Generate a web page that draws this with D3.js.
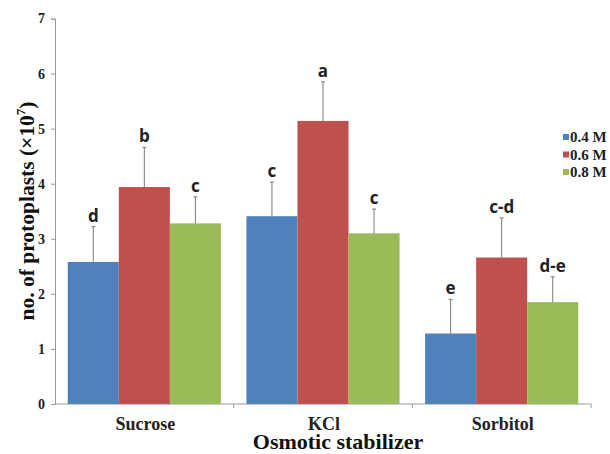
<!DOCTYPE html>
<html>
<head>
<meta charset="utf-8">
<script src="https://cdn.jsdelivr.net/npm/d3@7"></script>
<style>
  html, body { margin: 0; padding: 0; background: #fff; }
  svg { display: block; }
</style>
</head>
<body>
<svg id="chart" width="610" height="454"></svg>
<script>
// Protoplast yield by osmotic stabilizer and concentration
const categories = ["Sucrose", "KCl", "Sorbitol"];
const seriesNames = ["0.4 M", "0.6 M", "0.8 M"];
const values04 = [2.58, 3.41, 1.28];
const values06 = [3.94, 5.14, 2.66];
const values08 = [3.28, 3.10, 1.85];
const errors04 = [0.64, 0.62, 0.62];
const errors06 = [0.72, 0.71, 0.72];
const errors08 = [0.48, 0.44, 0.46];
const letters04 = ["d", "c", "e"];
const letters06 = ["b", "a", "c-d"];
const letters08 = ["c", "c", "d-e"];
const yTicks = [0, 1, 2, 3, 4, 5, 6, 7];
const colors = ["#4F81BD", "#C0504D", "#9BBB59"];

const seriesValues = [values04, values06, values08];
const seriesErrors = [errors04, errors06, errors08];
const seriesLetters = [letters04, letters06, letters08];

const svg = d3.select("#chart");
const plotLeft = 55, plotRight = 591, plotTop = 18.5, plotBottom = 404;

const x = d3.scaleBand().domain(categories).range([plotLeft, plotRight]).paddingInner(0).paddingOuter(0);
const y = d3.scaleLinear().domain([0, 7]).range([plotBottom, plotTop]);
const inner = d3.scaleBand().domain(d3.range(seriesNames.length))
  .range([0, x.bandwidth()]).paddingOuter(0.25).paddingInner(0);

const serif = "'Liberation Serif', 'Times New Roman', serif";
const axisColor = "#9a9a9a";

// Y axis
const yAxis = svg.append("g").attr("transform", `translate(${plotLeft},0)`)
  .call(d3.axisLeft(y).tickValues(yTicks).tickSize(4).tickPadding(6).tickFormat(d3.format("d")));
yAxis.select(".domain").attr("stroke", axisColor);
yAxis.selectAll(".tick line").attr("stroke", axisColor);
yAxis.selectAll(".tick text")
  .attr("font-family", serif).attr("font-weight", "bold").attr("font-size", 14).attr("fill", "#222");

// X axis: ticks at category boundaries
const boundaries = categories.map(c => x(c)).concat([plotRight]);
const xg = svg.append("g");
xg.append("line").attr("x1", plotLeft).attr("x2", plotRight).attr("y1", plotBottom).attr("y2", plotBottom)
  .attr("stroke", axisColor);
xg.selectAll("line.tk").data(boundaries.slice(1)).join("line").attr("class", "tk")
  .attr("x1", d => d).attr("x2", d => d).attr("y1", plotBottom).attr("y2", plotBottom + 4)
  .attr("stroke", axisColor);
xg.selectAll("text").data(categories).join("text")
  .attr("x", d => x(d) + x.bandwidth() / 2 + 1).attr("y", 430)
  .attr("text-anchor", "middle")
  .attr("font-family", serif).attr("font-weight", "bold").attr("font-size", 18).attr("fill", "#222")
  .text(d => d);

// Bars
const rows = [];
categories.forEach((c, ci) => {
  seriesNames.forEach((s, si) => {
    rows.push({ c, si, v: seriesValues[si][ci], e: seriesErrors[si][ci], l: seriesLetters[si][ci] });
  });
});

const bars = svg.append("g");
bars.selectAll("rect").data(rows).join("rect")
  .attr("x", d => x(d.c) + inner(d.si))
  .attr("y", d => y(d.v))
  .attr("width", inner.bandwidth())
  .attr("height", d => y(0) - y(d.v))
  .attr("fill", d => colors[d.si]);

// Upper error whiskers with caps
const err = svg.append("g").attr("stroke", "#7a7a7a").attr("stroke-width", 1);
rows.forEach(d => {
  const cx = x(d.c) + inner(d.si) + inner.bandwidth() / 2;
  err.append("line").attr("x1", cx).attr("x2", cx).attr("y1", y(d.v)).attr("y2", y(d.v + d.e));
  err.append("line").attr("x1", cx - 2).attr("x2", cx + 2).attr("y1", y(d.v + d.e)).attr("y2", y(d.v + d.e));
});

// Significance letters
svg.append("g").selectAll("text").data(rows).join("text")
  .attr("x", d => x(d.c) + inner(d.si) + inner.bandwidth() / 2)
  .attr("y", d => y(d.v + d.e) - 5)
  .attr("text-anchor", "middle")
  .attr("font-family", "'Open Sans', 'Liberation Sans', sans-serif")
  .attr("font-weight", "bold").attr("font-size", 17).attr("fill", "#222")
  .text(d => d.l);

// Legend
const legend = svg.append("g");
seriesNames.forEach((s, i) => {
  const ly = 137 + i * 17.5;
  legend.append("rect").attr("x", 563).attr("y", ly - 3).attr("width", 6).attr("height", 6).attr("fill", colors[i]);
  legend.append("text").attr("x", 570).attr("y", ly + 5)
    .attr("font-family", serif).attr("font-weight", "bold").attr("font-size", 15).attr("fill", "#222")
    .text(s);
});

// Axis titles
const yt = svg.append("text")
  .attr("transform", "translate(34,211) rotate(-90)")
  .attr("text-anchor", "middle")
  .attr("font-family", serif).attr("font-weight", "bold").attr("font-size", 21.5).attr("fill", "#111");
yt.append("tspan").text("no. of protoplasts (×10");
yt.append("tspan").attr("font-size", 13).attr("dy", -9).text("7");
yt.append("tspan").attr("dy", 9).text(")");

svg.append("text").attr("x", 338).attr("y", 449)
  .attr("text-anchor", "middle")
  .attr("font-family", serif).attr("font-weight", "bold").attr("font-size", 22).attr("fill", "#111")
  .text("Osmotic stabilizer");
</script>
</body>
</html>
